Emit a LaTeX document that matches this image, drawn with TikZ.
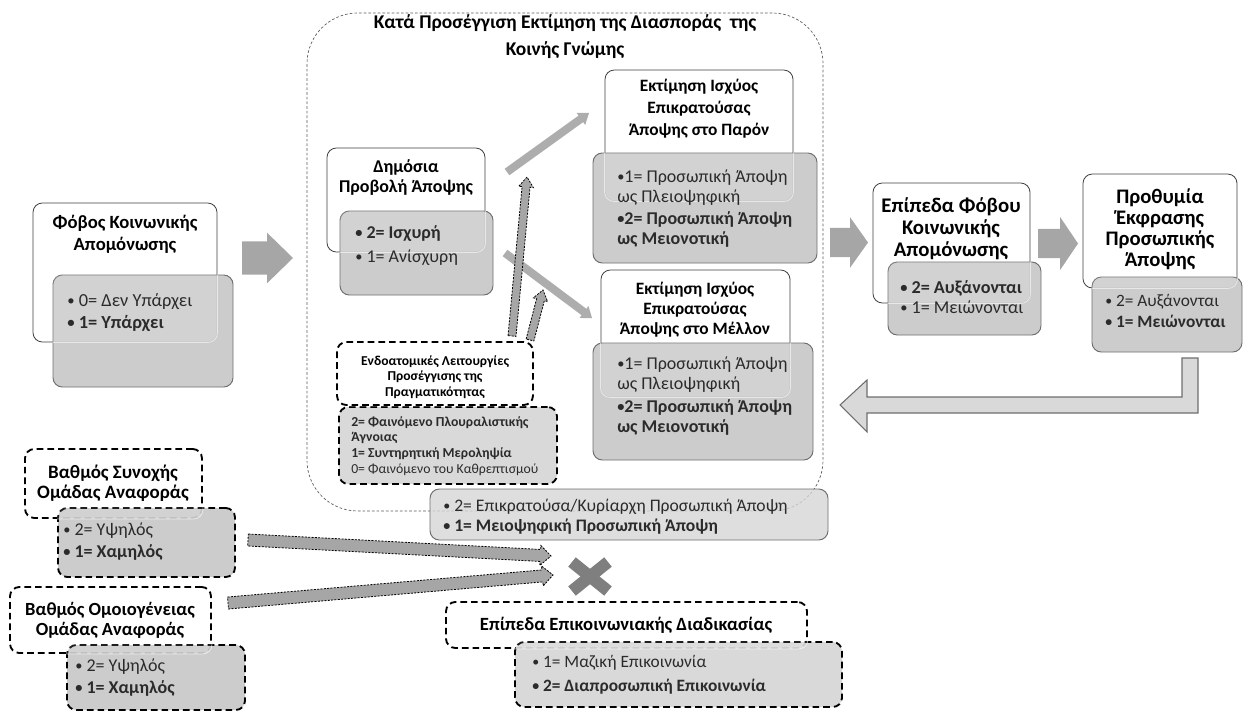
\documentclass[tikz,border=0pt]{standalone}
\usepackage{fontspec}
\setmainfont{Carlito}
\usetikzlibrary{calc,fit}
\definecolor{cardgray}{HTML}{C8C8C8}
\definecolor{lightgrayb}{HTML}{D6D6D6}
\definecolor{arrgray}{HTML}{A6A6A6}
\definecolor{thingray}{HTML}{ADADAD}
\definecolor{xgray}{HTML}{7F7F7F}
\definecolor{edgecol}{HTML}{404040}
\definecolor{gedge}{HTML}{6E6E6E}
\definecolor{txt}{HTML}{2B2B2B}
\definecolor{retfill}{HTML}{D9D9D9}
\definecolor{contcol}{HTML}{5A5A5A}
\newcommand\bul{\raisebox{0.12ex}{\scalebox{0.8}{•}}}
\tikzset{
 wbox/.style={draw=edgecol, fill=white, line width=0.6pt, rounded corners=7pt, inner sep=0pt},
 gbox/.style={draw=gedge, fill=cardgray, fill opacity=0.92, line width=0.7pt, rounded corners=7pt, inner sep=0pt},
 dbox/.style={draw=black, line width=1.4pt, dash pattern=on 5pt off 3pt},
 wover/.style={draw=white, draw opacity=0.6, fill=white, fill opacity=0.12, line width=0.6pt},
 cont/.style={draw=contcol, line width=0.5pt, dash pattern=on 2pt off 1.5pt, rounded corners=38pt, inner sep=0pt},
 ttl/.style={font=\bfseries\fontsize{14}{16.5}\selectfont, align=center, text=black, inner sep=0pt},
 bl/.style={anchor=west, align=left, text=txt, inner sep=0pt, font=\fontsize{13.8}{16}\selectfont},
 bigarr/.style={fill=arrgray, draw=none},
 thinarr/.style={fill=thingray, draw=none},
 dasharr/.style={fill=arrgray, draw=black, line width=0.6pt, dash pattern=on 1.5pt off 1pt},
 retarr/.style={fill=retfill, draw=gedge, line width=0.8pt},
 xmark/.style={draw=xgray, line width=9pt}
}
\newcommand\pairbox[5]{%
 \node[wbox,#4,fit={#2}] (#1W) {};
 \node[gbox,#5,fit={#3}] (#1G) {};
 \begin{scope}
  \clip[rounded corners=7pt] (#1G.south west) rectangle (#1G.north east);
  \path[wover,rounded corners=7pt] (#1W.south west) rectangle (#1W.north east);
 \end{scope}}
\newcommand\barrow[6]{%
 \coordinate (bhd) at ($(#3)!#6!(#2)$);
 \path[#1] ($(#2)!#4!90:(#3)$) -- ($(bhd)!#4!90:(#3)$) -- ($(bhd)!#5!90:(#3)$) -- (#3)
   -- ($(bhd)!#5!-90:(#3)$) -- ($(bhd)!#4!-90:(#3)$) -- ($(#2)!#4!-90:(#3)$) -- cycle;}
\begin{document}
\begin{tikzpicture}[x=0.75pt,y=-0.75pt]
\useasboundingbox (0,0) rectangle (1244,713);
% container
\node[cont, fit={(307,13)(823,511)}] (cont) {};
\node[ttl, font=\bfseries\fontsize{14.6}{20}\selectfont] (contT) at (565,36.5) {Κατά Προσέγγιση Εκτίμηση της Διασποράς\ \ της\\Κοινής Γνώμης};
% Fobos
\pairbox{fob}{(33,203)(217,342)}{(53,275)(233,387)}{}{}
\node[ttl] (fobT) at (125,234) {Φόβος Κοινωνικής\\Απομόνωσης};
\node[bl] (fobB) at (67,312.5) {\bul\ 0= Δεν Υπάρχει\\\textbf{\bul\ 1= Υπάρχει}};
% Dimosia
\pairbox{dem}{(327,148)(485,252)}{(340,211)(493,295)}{}{}
\node[ttl, font=\bfseries\fontsize{13.5}{14.5}\selectfont] (demT) at (406,177.5) {Δημόσια\\Προβολή Άποψης};
\node[bl, font=\fontsize{13.5}{18}\selectfont] (demB) at (355,246) {\textbf{\bul\ 2= Ισχυρή}\\\bul\ 1= Ανίσχυρη};
% Paron
\pairbox{par}{(605,70)(793,201)}{(593,153)(817,263)}{}{}
\node[ttl, font=\bfseries\fontsize{13}{16.5}\selectfont] (parT) at (699,109) {Εκτίμηση Ισχύος\\Επικρατούσας\\Άποψης στο Παρόν};
\node[bl, font=\fontsize{13.5}{15}\selectfont] (parB) at (617,208.5) {\bul1= Προσωπική Άποψη\\ως Πλειοψηφική\\[2pt]\textbf{\bul2= Προσωπική Άποψη}\\\textbf{ως Μειονοτική}};
% Mellon
\pairbox{mel}{(601,270)(790,397)}{(593,343)(813,460)}{}{}
\node[ttl, font=\bfseries\fontsize{13}{15}\selectfont] (melT) at (695,310) {Εκτίμηση Ισχύος\\Επικρατούσας\\Άποψης στο Μέλλον};
\node[bl, font=\fontsize{13.5}{15}\selectfont] (melB) at (617,396) {\bul1= Προσωπική Άποψη\\ως Πλειοψηφική\\[2pt]\textbf{\bul2= Προσωπική Άποψη}\\\textbf{ως Μειονοτική}};
% Epipeda fobou
\pairbox{epi}{(873,183)(1030,303)}{(888,262)(1041,335)}{}{}
\node[ttl, font=\bfseries\fontsize{15.6}{16.5}\selectfont] (epiT) at (951,229) {Επίπεδα Φόβου\\Κοινωνικής\\Απομόνωσης};
\node[bl, font=\fontsize{13.6}{15}\selectfont] (epiB) at (900,297) {\textbf{\bul\ 2= Αυξάνονται}\\\bul\ 1= Μειώνονται};
% Prothymia
\pairbox{pro}{(1083,174)(1237,288)}{(1092,277)(1242,352)}{}{}
\node[ttl, font=\bfseries\fontsize{15.5}{15.75}\selectfont] (proT) at (1160,229) {Προθυμία\\Έκφρασης\\Προσωπικής\\Άποψης};
\node[bl, font=\fontsize{13}{16}\selectfont] (proB) at (1105,311) {\bul\ 2= Αυξάνονται\\\textbf{\bul\ 1= Μειώνονται}};
% Endoatomikes
\pairbox{end}{(337,342)(533,405)}{(339,407)(557,484)}{dbox}{dbox, fill=lightgrayb}
\node[ttl, font=\bfseries\fontsize{10.2}{11.6}\selectfont] (endT) at (435,377) {Ενδοατομικές Λειτουργίες\\Προσέγγισης της\\Πραγματικότητας};
\node[bl, font=\fontsize{10.3}{11.8}\selectfont] (endB) at (351,446) {\textbf{2= Φαινόμενο Πλουραλιστικής}\\\textbf{Άγνοιας}\\\textbf{1= Συντηρητική Μεροληψία}\\0= Φαινόμενο του Καθρεπτισμού};
% Dominant opinion
\node[gbox, fill=lightgrayb, fill opacity=0.8, fit={(430,489)(828,540)}] (dom) {};
\node[bl, font=\fontsize{13.2}{15}\selectfont] (domB) at (443,517) {\bul\ 2= Επικρατούσα/Κυρίαρχη Προσωπική Άποψη\\\textbf{\bul\ 1= Μειοψηφική Προσωπική Άποψη}};
% Synoxi
\pairbox{syn}{(25,449)(202,518)}{(58,508)(235,577)}{dbox}{dbox}
\node[ttl, font=\bfseries\fontsize{14.2}{15}\selectfont] (synT) at (113,483) {Βαθμός Συνοχής\\Ομάδας Αναφοράς};
\node[bl, font=\fontsize{13.5}{17}\selectfont] (synB) at (63,541.5) {\bul\ 2= Υψηλός\\\textbf{\bul\ 1= Χαμηλός}};
% Omoiogeneia
\pairbox{omo}{(10,587)(211,653)}{(67,645)(245,710)}{dbox}{dbox}
\node[ttl, font=\bfseries\fontsize{13.9}{15}\selectfont] (omoT) at (110,620) {Βαθμός Ομοιογένειας\\Ομάδας Αναφοράς};
\node[bl, font=\fontsize{13.5}{16}\selectfont] (omoB) at (75,677.5) {\bul\ 2= Υψηλός\\\textbf{\bul\ 1= Χαμηλός}};
% Epikoinonia
\pairbox{com}{(446,602)(807,648)}{(515,642)(842,707)}{dbox}{dbox, fill=lightgrayb}
\node[ttl, font=\bfseries\fontsize{14}{16}\selectfont] (comT) at (626,625) {Επίπεδα Επικοινωνιακής Διαδικασίας};
\node[bl, font=\fontsize{13}{18}\selectfont] (comB) at (532,674.5) {\bul\ 1= Μαζική Επικοινωνία\\\textbf{\bul\ 2= Διαπροσωπική Επικοινωνία}};
% big arrows
\coordinate (a1s) at (242,258); \coordinate (a1e) at (293,258);
\barrow{bigarr}{a1s}{a1e}{12.4pt}{19pt}{19.5pt}
\coordinate (a2s) at (830,242.5); \coordinate (a2e) at (868,242.5);
\barrow{bigarr}{a2s}{a2e}{11pt}{19pt}{13.5pt}
\coordinate (a3s) at (1038,243.5); \coordinate (a3e) at (1078,243.5);
\barrow{bigarr}{a3s}{a3e}{11pt}{20pt}{13.5pt}
% return arrow
\coordinate (r0) at (1182,358); \coordinate (rtip) at (840,405);
\path[retarr] (r0) -- (1198,358) -- (1198,413) -- (867,413) -- (867,432) -- (rtip) -- (867,380) -- (867,397) -- (1182,397) -- cycle;
% thin arrows from Dimosia
\coordinate (t1s) at (507,172); \coordinate (t1e) at (589,113);
\barrow{thinarr}{t1s}{t1e}{3pt}{5.6pt}{7.5pt}
\coordinate (t2s) at (505,253); \coordinate (t2e) at (592,318);
\barrow{thinarr}{t2s}{t2e}{3pt}{5.6pt}{7.5pt}
% dashed arrows up
\coordinate (u1s) at (512,336); \coordinate (u1e) at (527,177);
\barrow{dasharr}{u1s}{u1e}{3pt}{5.5pt}{7.5pt}
\coordinate (u2s) at (530,340); \coordinate (u2e) at (543,290);
\barrow{dasharr}{u2s}{u2e}{3pt}{5.5pt}{7.5pt}
% bottom-left dashed arrows
\coordinate (b1s) at (248,540); \coordinate (b1e) at (551,556);
\barrow{dasharr}{b1s}{b1e}{4.5pt}{7.5pt}{8pt}
\coordinate (b2s) at (228,603); \coordinate (b2e) at (553,575);
\barrow{dasharr}{b2s}{b2e}{4.5pt}{7.5pt}{8pt}
% X mark
\draw[xmark] (572,562) -- (608,591);
\draw[xmark] (608,562) -- (572,591);
\end{tikzpicture}
\end{document}
